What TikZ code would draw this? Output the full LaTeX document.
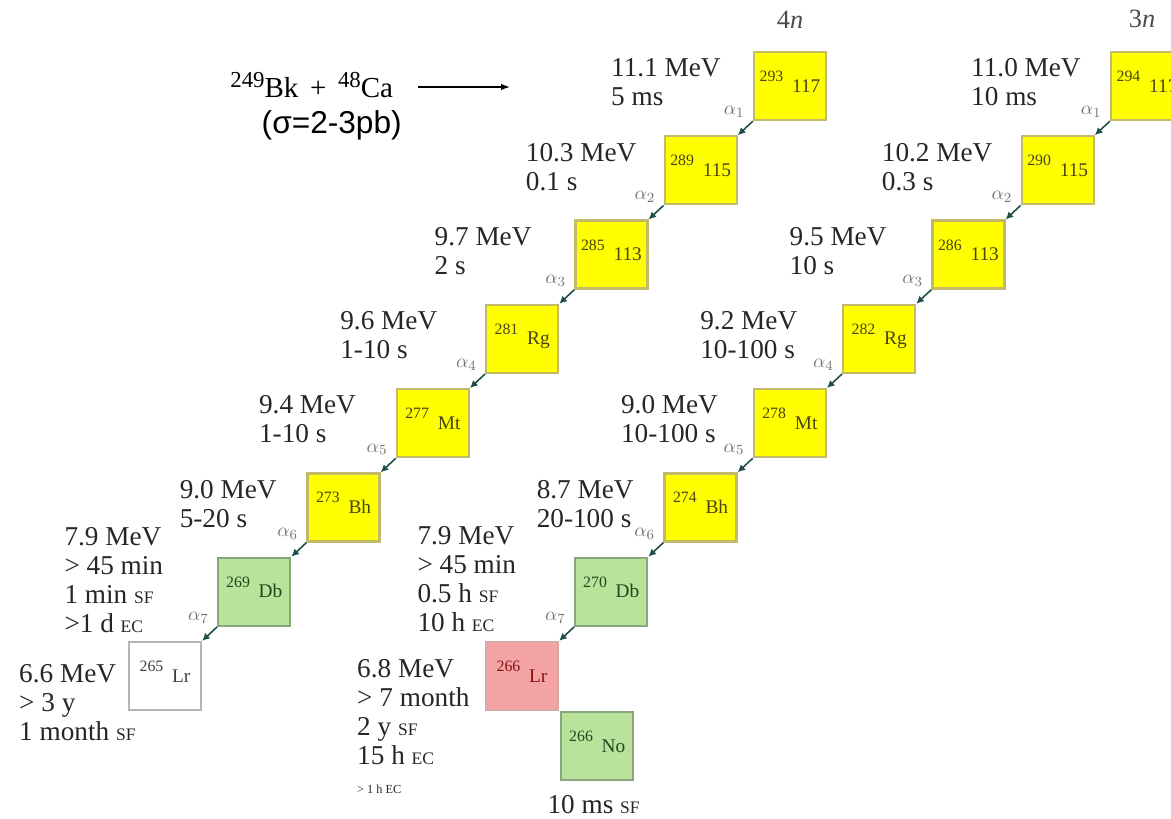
\documentclass[tikz,border=0pt]{standalone}
\usepackage{fontspec}
\setmainfont{Liberation Serif}
\newfontfamily\arialfam{Liberation Sans}
\usepackage{tikz}
\usetikzlibrary{positioning, arrows.meta}
\usepackage{xcolor}

\definecolor{boxyellow}{HTML}{FFFF00}
\definecolor{edgeyellow}{HTML}{C2BA6A}
\definecolor{boxgreen}{HTML}{B9E29A}
\definecolor{edgegreen}{HTML}{8AA67C}
\definecolor{boxpink}{HTML}{F4A4A4}
\definecolor{edgepink}{HTML}{D9A9A9}
\definecolor{edgegrey}{HTML}{B4B4B4}
\definecolor{txtolive}{HTML}{4A4410}
\definecolor{txtgreen}{HTML}{1E4A1E}
\definecolor{txtred}{HTML}{8A1010}
\definecolor{decaycol}{HTML}{1F4F4A}

\newcommand{\nuc}[2]{\rule[-5pt]{0pt}{5pt}\raisebox{6pt}{\fontsize{9}{10}\selectfont #1}\hspace{5pt}#2}
\newcommand{\dm}[1]{{\fontsize{10}{10}\selectfont #1}}
\newcommand{\sups}[1]{\raisebox{6pt}{\fontsize{13}{13}\selectfont #1}}

\begin{document}
\begin{tikzpicture}[
        node distance=0.28cm and 0.30cm,
        nucbox/.style={
            rectangle,
            draw,
            line width=1.3pt,
            minimum width=1.44cm,
            minimum height=1.36cm,
            inner sep=0pt,
            font=\fontsize{11}{13}\selectfont
        },
        ybox/.style={nucbox, fill=boxyellow, draw=edgeyellow, text=txtolive},
        gbox/.style={nucbox, fill=boxgreen, draw=edgegreen, text=txtgreen},
        pbox/.style={nucbox, fill=boxpink, draw=edgepink, text=txtred},
        wbox/.style={nucbox, fill=white, draw=edgegrey, text=black!75},
        energy/.style={
            align=left,
            inner sep=0pt,
            text=black!85,
            font=\fontsize{15.5}{16.5}\selectfont
        },
        alab/.style={inner sep=0pt, text=black!55, font=\fontsize{11}{12}\selectfont},
        nlab/.style={inner sep=0pt, text=black!70, font=\fontsize{15}{16}\selectfont},
        decay/.style={
            -{Latex[length=1.5mm, width=1.5mm]},
            draw=decaycol,
            line width=0.9pt
        },
        reacarrow/.style={
            -{Latex[length=1.8mm, width=1.3mm]},
            line width=0.8pt
        }
    ]
        \useasboundingbox (0,0) rectangle (23.42,16.36);
        \clip (0,0) rectangle (23.42,16.36);

        % Reakcja
        \node[inner sep=0pt, anchor=base west, font=\fontsize{16.5}{18}\selectfont] (reac) at (4.60,14.40)
            {\sups{249}Bk\hspace{0.4em}+\hspace{0.4em}\sups{48}Ca};
        \coordinate (arrend) at (10.20,14.62);
        \node[inner sep=0pt, below=0.24cm of reac, xshift=0.4cm, font=\arialfam\fontsize{18}{20}\selectfont] (sigma) {(σ=2-3pb)};

        % Łańcuch 4n
        \node[ybox] (a1) at (15.80,14.64) {\nuc{293}{117}};
        \node[ybox, below left=of a1] (a2) {\nuc{289}{115}};
        \node[ybox, below left=of a2] (a3) {\nuc{285}{113}};
        \node[ybox, below left=of a3] (a4) {\nuc{281}{Rg}};
        \node[ybox, below left=of a4] (a5) {\nuc{277}{Mt}};
        \node[ybox, below left=of a5] (a6) {\nuc{273}{Bh}};
        \node[gbox, below left=of a6] (a7) {\nuc{269}{Db}};
        \node[wbox, below left=of a7] (a8) {\nuc{265}{Lr}};
        \node[nlab, above=0.45cm of a1] (n4) {4\textit{n}};

        % Łańcuch 3n
        \node[ybox] (b1) at (22.94,14.64) {\nuc{294}{117}};
        \node[ybox, below left=of b1] (b2) {\nuc{290}{115}};
        \node[ybox, below left=of b2] (b3) {\nuc{286}{113}};
        \node[ybox, below left=of b3] (b4) {\nuc{282}{Rg}};
        \node[ybox, below left=of b4] (b5) {\nuc{278}{Mt}};
        \node[ybox, below left=of b5] (b6) {\nuc{274}{Bh}};
        \node[gbox, below left=of b6] (b7) {\nuc{270}{Db}};
        \node[pbox, below left=of b7] (b8) {\nuc{266}{Lr}};
        \node[gbox, below right=0cm and 0.02cm of b8] (b9) {\nuc{266}{No}};
        \node[nlab, above=0.45cm of b1, xshift=-0.1cm] (n3) {3\textit{n}};

        % Energie i czasy, łańcuch 4n
        \node[energy, below left=0.15cm and 2.84cm of a1.north west, anchor=north west] (e1) {11.1 MeV\\5 ms};
        \node[energy, below left=0.15cm and 2.76cm of a2.north west, anchor=north west] (e2) {10.3 MeV\\0.1 s};
        \node[energy, below left=0.15cm and 2.80cm of a3.north west, anchor=north west] (e3) {9.7 MeV\\2 s};
        \node[energy, below left=0.15cm and 2.90cm of a4.north west, anchor=north west] (e4) {9.6 MeV\\1-10 s};
        \node[energy, below left=0.15cm and 2.74cm of a5.north west, anchor=north west] (e5) {9.4 MeV\\1-10 s};
        \node[energy, below left=0.15cm and 2.54cm of a6.north west, anchor=north west] (e6) {9.0 MeV\\5-20 s};
        \node[energy, above left=0.58cm and 3.06cm of a7.north west, anchor=north west] (e7)
            {7.9 MeV\\> 45 min\\1 min \dm{SF}\\>1 d \dm{EC}};
        \node[energy, below left=0.46cm and 2.18cm of a8.north west, anchor=north west] (e8)
            {6.6 MeV\\> 3 y\\1 month \dm{SF}};

        % Energie i czasy, łańcuch 3n
        \node[energy, below left=0.15cm and 2.78cm of b1.north west, anchor=north west] (f1) {11.0 MeV\\10 ms};
        \node[energy, below left=0.15cm and 2.78cm of b2.north west, anchor=north west] (f2) {10.2 MeV\\0.3 s};
        \node[energy, below left=0.15cm and 2.84cm of b3.north west, anchor=north west] (f3) {9.5 MeV\\10 s};
        \node[energy, below left=0.15cm and 2.84cm of b4.north west, anchor=north west] (f4) {9.2 MeV\\10-100 s};
        \node[energy, below left=0.15cm and 2.64cm of b5.north west, anchor=north west] (f5) {9.0 MeV\\10-100 s};
        \node[energy, below left=0.15cm and 2.54cm of b6.north west, anchor=north west] (f6) {8.7 MeV\\20-100 s};
        \node[energy, above left=0.60cm and 3.14cm of b7.north west, anchor=north west] (f7)
            {7.9 MeV\\> 45 min\\0.5 h \dm{SF}\\10 h \dm{EC}};
        \node[energy, below left=0.36cm and 2.56cm of b8.north west, anchor=north west] (f8)
            {6.8 MeV\\> 7 month\\2 y \dm{SF}\\15 h \dm{EC}\\{\fontsize{7}{8}\selectfont > 1 h EC}};
        \node[energy, below left=0.28cm and 0.26cm of b9.south west, anchor=north west] (f9) {10 ms \dm{SF}};

        % Etykiety alfa
        \node[alab, above left=0.06cm and 0.16cm of a1.south west] (al1) {$\alpha_1$};
        \node[alab, above left=0.06cm and 0.16cm of a2.south west] (al2) {$\alpha_2$};
        \node[alab, above left=0.06cm and 0.16cm of a3.south west] (al3) {$\alpha_3$};
        \node[alab, above left=0.06cm and 0.16cm of a4.south west] (al4) {$\alpha_4$};
        \node[alab, above left=0.06cm and 0.16cm of a5.south west] (al5) {$\alpha_5$};
        \node[alab, above left=0.06cm and 0.16cm of a6.south west] (al6) {$\alpha_6$};
        \node[alab, above left=0.06cm and 0.16cm of a7.south west] (al7) {$\alpha_7$};
        \node[alab, above left=0.06cm and 0.16cm of b1.south west] (bl1) {$\alpha_1$};
        \node[alab, above left=0.06cm and 0.16cm of b2.south west] (bl2) {$\alpha_2$};
        \node[alab, above left=0.06cm and 0.16cm of b3.south west] (bl3) {$\alpha_3$};
        \node[alab, above left=0.06cm and 0.16cm of b4.south west] (bl4) {$\alpha_4$};
        \node[alab, above left=0.06cm and 0.16cm of b5.south west] (bl5) {$\alpha_5$};
        \node[alab, above left=0.06cm and 0.16cm of b6.south west] (bl6) {$\alpha_6$};
        \node[alab, above left=0.06cm and 0.16cm of b7.south west] (bl7) {$\alpha_7$};

        % Strzałka reakcji
        \draw[reacarrow, shorten <=0.5cm] (reac.east |- arrend) -- (arrend);

        % Rozpady alfa
        \draw[decay] (a1.south west) -- (a2.north east);
        \draw[decay] (a2.south west) -- (a3.north east);
        \draw[decay] (a3.south west) -- (a4.north east);
        \draw[decay] (a4.south west) -- (a5.north east);
        \draw[decay] (a5.south west) -- (a6.north east);
        \draw[decay] (a6.south west) -- (a7.north east);
        \draw[decay] (a7.south west) -- (a8.north east);
        \draw[decay] (b1.south west) -- (b2.north east);
        \draw[decay] (b2.south west) -- (b3.north east);
        \draw[decay] (b3.south west) -- (b4.north east);
        \draw[decay] (b4.south west) -- (b5.north east);
        \draw[decay] (b5.south west) -- (b6.north east);
        \draw[decay] (b6.south west) -- (b7.north east);
        \draw[decay] (b7.south west) -- (b8.north east);

    \end{tikzpicture}
\end{document}
